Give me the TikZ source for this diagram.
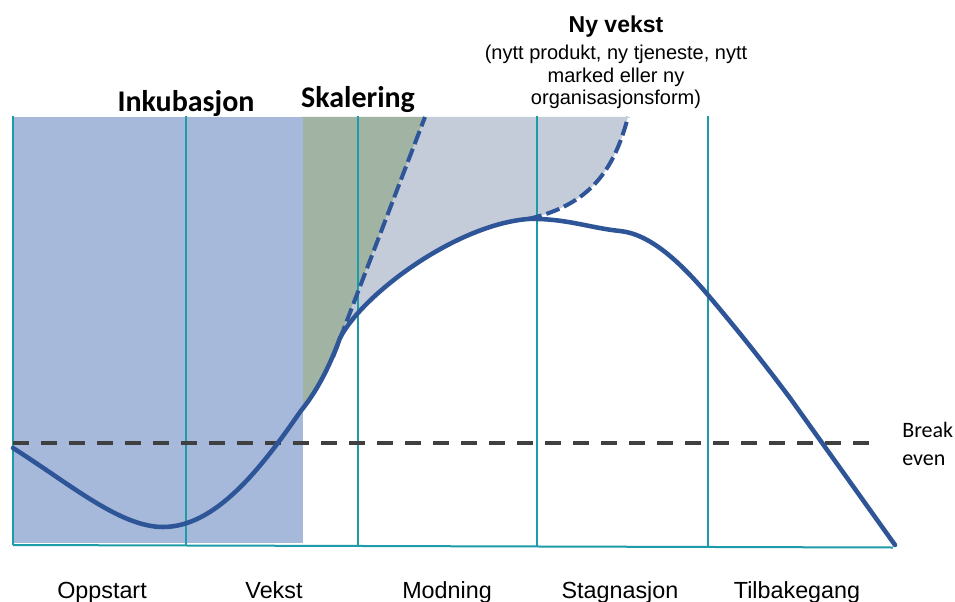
\documentclass[tikz,border=0pt]{standalone}
\usepackage{fontspec}
\setmainfont{Liberation Sans}
\newfontfamily\calib{Carlito}
\definecolor{blueFill}{HTML}{A6B9DA}
\definecolor{greenFill}{HTML}{A1B3A3}
\definecolor{grayFill}{HTML}{C4CBD9}
\definecolor{tealc}{HTML}{1C9BA8}
\definecolor{curveblue}{HTML}{2E5597}
\definecolor{begray}{HTML}{404040}
\begin{document}
\begin{tikzpicture}[x=0.75pt,y=-0.75pt,
  phaseline/.style={draw=tealc, line width=1.5pt},
  lifecurve/.style={draw=curveblue, line width=3.4pt, line cap=round, line join=round},
  growthdash/.style={draw=curveblue, line width=3pt, dash pattern=on 10.5pt off 3.75pt},
  bedash/.style={draw=begray, line width=3pt, dash pattern=on 12pt off 9pt},
  phaselabel/.style={font=\fontsize{17.5}{21}\selectfont, anchor=base, inner sep=0pt},
  headlabel/.style={font=\calib\bfseries\fontsize{22.5}{27}\selectfont, anchor=base, inner sep=0pt},
  nylabel/.style={font=\bfseries\fontsize{17.25}{20}\selectfont, anchor=base, inner sep=0pt},
  sublabel/.style={font=\fontsize{15}{17}\selectfont, anchor=base, inner sep=0pt},
  belabel/.style={font=\calib\fontsize{16.5}{21}\selectfont, anchor=base west, inner sep=0pt}]
\useasboundingbox (0,0) rectangle (955,602);
\fill[white] (0,0) rectangle (955,602);

% green area (Skalering)
\fill[greenFill] (300,117) -- (425,117) -- (340,338)
  .. controls (330,365) and (318,390) .. (300,412) -- cycle;
% gray area (Ny vekst)
\fill[grayFill] (340,338) .. controls (362,295) and (455,225) .. (528,219)
  .. controls (590,205) and (614,170) .. (628,117)
  -- (425,117) -- cycle;
% blue area (Inkubasjon)
\fill[blueFill] (13,117) rectangle (303,543);

% phase lines
\coordinate (l1t) at (13,116);  \coordinate (l1b) at (13,545);
\coordinate (l2t) at (186,116); \coordinate (l2b) at (186,545.5);
\coordinate (l3t) at (358,116); \coordinate (l3b) at (358,546);
\coordinate (l4t) at (537,116); \coordinate (l4b) at (537,546.5);
\coordinate (l5t) at (708,116); \coordinate (l5b) at (708,547);
\coordinate (axr) at (893,547.5);
\draw[phaseline] (l1t) -- (l1b);
\draw[phaseline] (l2t) -- (l2b);
\draw[phaseline] (l3t) -- (l3b);
\draw[phaseline] (l4t) -- (l4b);
\draw[phaseline] (l5t) -- (l5b);
\draw[phaseline] (l1b) -- (axr);

% break even line
\coordinate (bel) at (13,443);
\coordinate (ber) at (878,443);
\draw[bedash] (bel) -- (ber);

% life-cycle curve
\draw[lifecurve] (13,448) .. controls (70,484) and (120,527) .. (163,527)
  .. controls (215,527) and (260,470) .. (300,412)
  .. controls (318,390) and (330,365) .. (340,338)
  .. controls (362,295) and (455,225) .. (528,219)
  .. controls (565,218) and (590,228) .. (620,231)
  .. controls (650,234) and (680,262) .. (708,295)
  .. controls (735,327) and (760,358) .. (790,398)
  -- (895,545);

% growth dashed lines
\draw[growthdash] (333,357) -- (425,117);
\draw[growthdash] (528,219) .. controls (590,205) and (614,170) .. (628,117);

% labels
\node[headlabel] (inkub) at (186,112) {Inkubasjon};
\node[headlabel] (skal) at (358,108) {Skalering};
\node[nylabel] (ny) at (616,33) {Ny vekst};
\node[sublabel] (ny1) at (616,60) {(nytt produkt, ny tjeneste, nytt};
\node[sublabel] (ny2) at (616,82.5) {marked eller ny};
\node[sublabel] (ny3) at (616,105) {organisasjonsform)};
\node[belabel] (be1) at (902,437) {Break};
\node[belabel] (be2) at (902,465) {even};
\node[phaselabel] (p1) at (102,598) {Oppstart};
\node[phaselabel] (p2) at (274,598) {Vekst};
\node[phaselabel] (p3) at (447,598) {Modning};
\node[phaselabel] (p4) at (620,598) {Stagnasjon};
\node[phaselabel] (p5) at (797,598) {Tilbakegang};
\end{tikzpicture}
\end{document}
